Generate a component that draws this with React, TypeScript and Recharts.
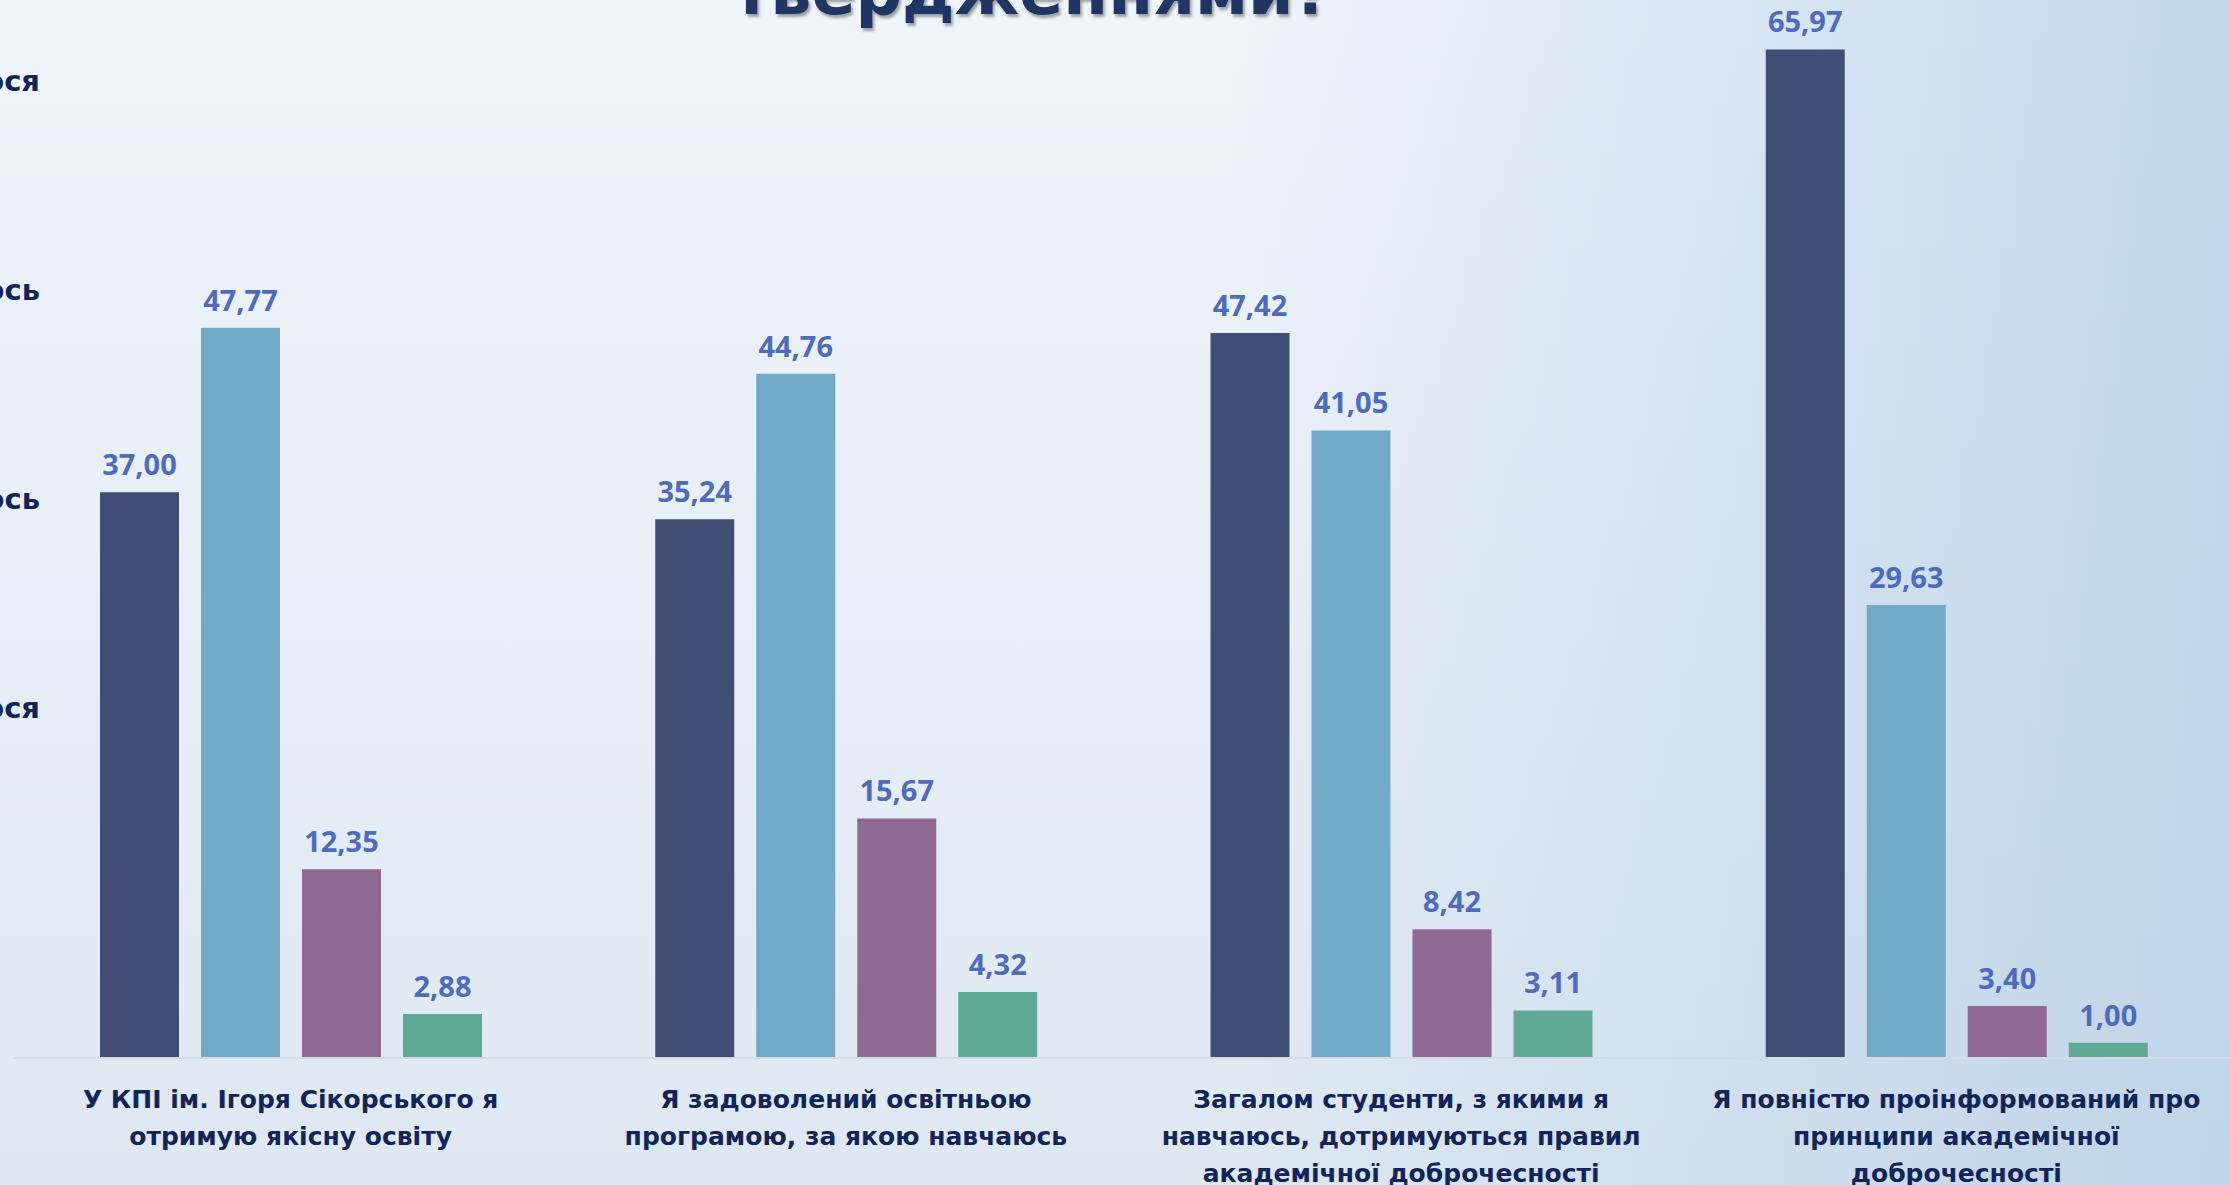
import { Bar, BarChart, LabelList, Legend, XAxis, YAxis } from "recharts"

// Statements (category axis), line breaks as in the slide
const categories = [
  "У КПІ ім. Ігоря Сікорського я\nотримую якісну освіту",
  "Я задоволений освітньою\nпрограмою, за якою навчаюсь",
  "Загалом студенти, з якими я\nнавчаюсь, дотримуються правил\nакадемічної доброчесності",
  "Я повністю проінформований про\nпринципи академічної\nдоброчесності",
]

const seriesNames = [
  "Повністю погоджуюся",
  "Скоріше погоджуюсь",
  "Скоріше не погоджуюсь",
  "Повністю не погоджуюся",
]

// percentages
const fullyAgree = [37.0, 35.24, 47.42, 65.97]
const ratherAgree = [47.77, 44.76, 41.05, 29.63]
const ratherDisagree = [12.35, 15.67, 8.42, 3.4]
const fullyDisagree = [2.88, 4.32, 3.11, 1.0]

const seriesKeys = ["s1", "s2", "s3", "s4"]
const colors = ["#404e76", "#71aac6", "#8e6a92", "#5fa995"]

const chartData = categories.map((category, i) => ({
  category,
  s1: fullyAgree[i],
  s2: ratherAgree[i],
  s3: ratherDisagree[i],
  s4: fullyDisagree[i],
}))

const navy = "#12255a"
const textFont = "'DejaVu Sans', sans-serif"
const numberFont = "'Open Sans', sans-serif"

const formatValue = (v: any) => Number(v).toFixed(2).replace(".", ",")

function CategoryTick({ x, y, payload }: any) {
  const lines = String(payload.value).split("\n")
  return (
    <text
      x={x}
      y={y}
      textAnchor="middle"
      fill={navy}
      fontFamily={textFont}
      fontWeight={700}
      fontSize={25}
    >
      {lines.map((line, i) => (
        <tspan key={i} x={x} dy={i === 0 ? 42 : 37}>
          {line}
        </tspan>
      ))}
    </text>
  )
}

// legend sits mostly off the left edge of the slide; only word endings show
function LegendBlock() {
  return (
    <div style={{ position: "absolute", left: 0, top: 0, width: 40, height: 760 }}>
      {seriesNames.map((name, i) => (
        <div
          key={name}
          style={{
            position: "absolute",
            right: 0,
            top: 64 + i * 209,
            height: 34,
            display: "flex",
            alignItems: "center",
            gap: 14,
            whiteSpace: "nowrap",
            fontFamily: textFont,
            fontWeight: 700,
            fontSize: 29,
            color: navy,
          }}
        >
          <span style={{ width: 22, height: 22, background: colors[i], display: "inline-block" }} />
          {name}
        </div>
      ))}
    </div>
  )
}

export default function App() {
  return (
    <div
      style={{
        position: "fixed",
        left: 0,
        top: 0,
        width: 2230,
        height: 1185,
        overflow: "hidden",
        background:
          "linear-gradient(90deg, rgba(190,212,232,0) 0%, rgba(190,212,232,0) 55%, rgba(178,205,228,0.7) 100%), linear-gradient(180deg, #f0f4fb 0%, #dfe8f2 100%)",
      }}
    >
      <div
        style={{
          position: "absolute",
          left: 632,
          top: -40,
          width: 800,
          textAlign: "center",
          fontFamily: textFont,
          fontWeight: 700,
          fontSize: 65,
          lineHeight: "64px",
          color: "#1f3564",
          textShadow: "2px 3px 3px rgba(0,0,0,0.35)",
          whiteSpace: "nowrap",
        }}
      >
        твердженнями?
      </div>
      <BarChart
        width={2230}
        height={1185}
        data={chartData}
        margin={{ top: 49, right: -4, left: 13, bottom: 0 }}
        barSize={79}
        barGap={22}
      >
        <XAxis
          dataKey="category"
          height={127}
          interval={0}
          tickLine={false}
          axisLine={{ stroke: "#d2dbe6", strokeWidth: 2 }}
          tick={<CategoryTick />}
        />
        <YAxis hide domain={[0, 66]} />
        <Legend
          layout="horizontal"
          verticalAlign="middle"
          align="left"
          content={<LegendBlock />}
          wrapperStyle={{ left: 0, top: 0, width: 0, height: 0, overflow: "visible" }}
        />
        {seriesKeys.map((key, i) => (
          <Bar key={key} dataKey={key} name={seriesNames[i]} fill={colors[i]} isAnimationActive={false}>
            <LabelList
              dataKey={key}
              position="top"
              offset={17}
              formatter={formatValue}
              fill="#4e6cbd"
              fontFamily={numberFont}
              fontWeight={700}
              fontSize={29}
            />
          </Bar>
        ))}
      </BarChart>
    </div>
  )
}
